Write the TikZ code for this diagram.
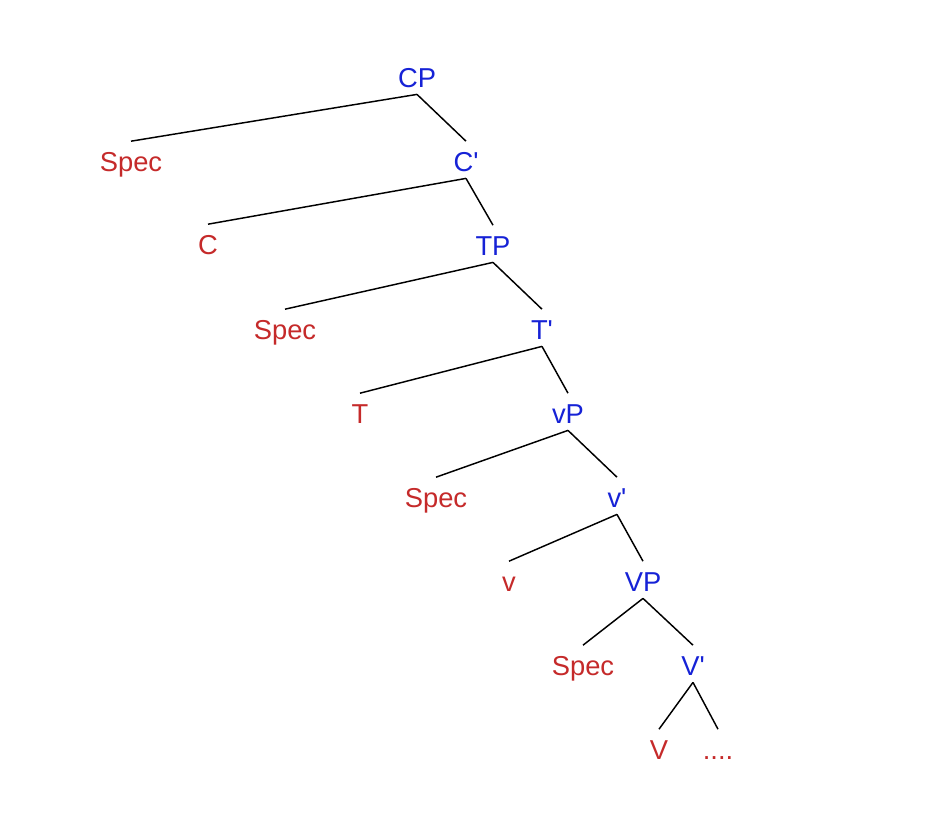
\documentclass[tikz,border=0pt]{standalone}
\usepackage{fontspec}
\setmainfont{Liberation Sans}
\definecolor{labred}{RGB}{197,42,42}
\definecolor{labblue}{RGB}{22,34,214}
\newcommand{\bq}{\textquotesingle}
\begin{document}
\begin{tikzpicture}[x=0.75pt,y=-0.75pt,
  lab/.style={inner sep=0pt,outer sep=0pt,text height=14.6pt,text depth=0pt,font=\fontsize{20.5}{24}\selectfont},
  phr/.style={lab,text=labblue},
  term/.style={lab,text=labred},
  branch/.style={draw=black,line width=1.1pt}]
\useasboundingbox (0,0) rectangle (926,830);
\node[phr] (CP) at (417,78) {CP};
\node[term] (spec1) at (131,162) {Spec};
\node[phr] (Cbar) at (466,162) {C\bq};
\node[term] (C) at (208,245) {C};
\node[phr] (TP) at (493,246) {TP};
\node[term] (spec2) at (285,330) {Spec};
\node[phr] (Tbar) at (542,330) {T\bq};
\node[term] (T) at (360,414) {T};
\node[phr] (vP) at (568,414) {vP};
\node[term] (spec3) at (436,498) {Spec};
\node[phr] (vbar) at (617,498) {v\bq};
\node[term] (v) at (509,582) {v};
\node[phr] (VP) at (643,582) {VP};
\node[term] (spec4) at (583,666) {Spec};
\node[phr] (Vbar) at (693,666) {V\bq};
\node[term] (V) at (659,750) {V};
\node[term] (dots) at (718,750) {....};
\foreach \p/\c in {CP/spec1,CP/Cbar,Cbar/C,Cbar/TP,TP/spec2,TP/Tbar,Tbar/T,Tbar/vP,vP/spec3,vP/vbar,vbar/v,vbar/VP,VP/spec4,VP/Vbar,Vbar/V,Vbar/dots}
  \draw[branch] ([yshift=-5pt]\p.south) -- ([yshift=8.3pt]\c.north);
\end{tikzpicture}
\end{document}
